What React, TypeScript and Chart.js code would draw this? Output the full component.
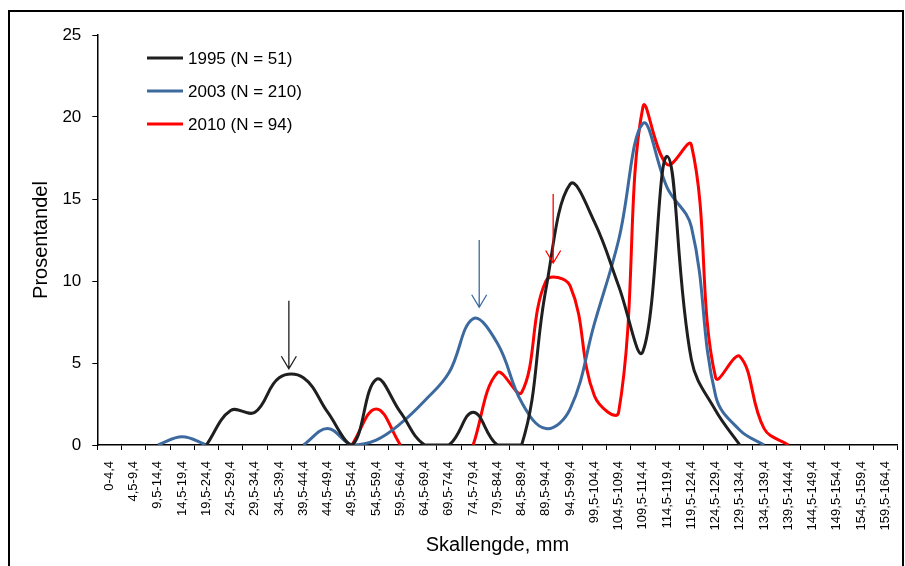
import { useEffect, useRef } from "react"
import { Chart, registerables } from "chart.js"

Chart.register(...registerables)

// Size classes on the x axis
const sizeClasses = [
  "0-4,4", "4,5-9,4", "9,5-14,4", "14,5-19,4", "19,5-24,4", "24,5-29,4", "29,5-34,4",
  "34,5-39,4", "39,5-44,4", "44,5-49,4", "49,5-54,4", "54,5-59,4", "59,5-64,4", "64,5-69,4",
  "69,5-74,4", "74,5-79,4", "79,5-84,4", "84,5-89,4", "89,5-94,4", "94,5-99,4", "99,5-104,4",
  "104,5-109,4", "109,5-114,4", "114,5-119,4", "119,5-124,4", "124,5-129,4", "129,5-134,4",
  "134,5-139,4", "139,5-144,4", "144,5-149,4", "149,5-154,4", "154,5-159,4", "159,5-164,4",
]

// Percent per size class
const pct1995 = [
  null, null, null, null, 0, 2.1, 2.0, 4.1, 4.1, 2.0, 0, 4.0, 2.0, 0, 0, 2.0, 0,
  0, 9.5, 15.9, 13.6, 9.7, 5.7, 17.6, 5.2, 2.1, 0, null, null, null, null, null, null,
]
const pct2003 = [
  null, null, 0, 0.5, 0, null, null, null, 0, 1.0, 0, 0.3, 1.3, 2.7, 4.4, 7.7, 6.2,
  2.6, 1.0, 2.2, 7.4, 12.5, 19.6, 15.7, 13.3, 3.0, 0.9, 0, null, null, null, null, null,
]
const pct2010 = [
  null, null, null, null, null, null, null, null, null, null, 0, 2.2, 0, null, null, 0, 4.4,
  3.2, 10.0, 9.7, 3.0, 2.0, 20.6, 17.1, 18.3, 4.1, 5.4, 1.0, 0, null, null, null, null,
]

const seriesLabels = ["1995 (N = 51)", "2003 (N = 210)", "2010 (N = 94)"]
const seriesColors = ["#1f1f1f", "#3d6a9e", "#ff0000"]

// Arrows marking modes: category position, start value, tip value
const arrowX = [7.4, 15.25, 18.3]
const arrowFrom = [8.8, 12.5, 15.3]
const arrowTo = [4.65, 8.4, 11.1]

const FONT = "'Liberation Sans', Arial, sans-serif"

const extrasPlugin = {
  id: "extras",
  afterDatasetsDraw(chart: any) {
    const { ctx, scales } = chart
    const x = scales.x
    const y = scales.y
    ctx.save()

    // arrows
    arrowX.forEach((ax, i) => {
      const px = x.getPixelForValue(ax)
      const y0 = y.getPixelForValue(arrowFrom[i])
      const y1 = y.getPixelForValue(arrowTo[i])
      ctx.strokeStyle = seriesColors[i]
      ctx.lineWidth = 1.3
      ctx.beginPath()
      ctx.moveTo(px, y0)
      ctx.lineTo(px, y1)
      ctx.moveTo(px - 7.5, y1 - 12.5)
      ctx.lineTo(px, y1)
      ctx.lineTo(px + 7.5, y1 - 12.5)
      ctx.stroke()
    })

    // legend
    seriesLabels.forEach((label, i) => {
      const ly = 58 + i * 33
      ctx.strokeStyle = seriesColors[i]
      ctx.lineWidth = 3
      ctx.beginPath()
      ctx.moveTo(147, ly)
      ctx.lineTo(183, ly)
      ctx.stroke()
      ctx.fillStyle = "#000"
      ctx.font = `17px ${FONT}`
      ctx.textBaseline = "middle"
      ctx.textAlign = "left"
      ctx.fillText(label, 188, ly + 1)
    })

    // outer frame
    ctx.strokeStyle = "#000"
    ctx.lineWidth = 2
    ctx.strokeRect(9, 11, 894, 600)
    ctx.restore()
  },
}

export default function App() {
  const chartRef = useRef<HTMLCanvasElement>(null)
  const chartInstance = useRef<Chart | null>(null)

  useEffect(() => {
    if (!chartRef.current) return
    if (chartInstance.current) chartInstance.current.destroy()
    const ctx = chartRef.current.getContext("2d")
    if (!ctx) return

    const series = [pct1995, pct2003, pct2010]
    chartInstance.current = new Chart(ctx, {
      type: "line",
      data: {
        labels: sizeClasses,
        datasets: series.map((data, i) => ({
          label: seriesLabels[i],
          data,
          borderColor: seriesColors[i],
          backgroundColor: seriesColors[i],
          borderWidth: 3,
          pointRadius: 0,
          tension: 0.4,
          spanGaps: false,
          fill: false,
        })),
      },
      options: {
        animation: false,
        responsive: false,
        maintainAspectRatio: false,
        layout: { padding: { left: 0, right: 7.5, top: 35, bottom: 0 } },
        plugins: {
          legend: { display: false },
          tooltip: { enabled: false },
        },
        scales: {
          x: {
            offset: true,
            grid: {
              offset: true,
              drawOnChartArea: false,
              tickLength: 5,
              color: "#000",
            },
            border: { color: "#000", width: 1.5 },
            ticks: {
              autoSkip: false,
              minRotation: 90,
              maxRotation: 90,
              padding: 11,
              color: "#000",
              font: { family: FONT, size: 13 },
            },
            title: {
              display: true,
              text: "Skallengde, mm",
              color: "#000",
              font: { family: FONT, size: 20 },
              padding: { top: 0, bottom: 9 },
            },
            afterFit: (scale: any) => {
              scale.height = 121
              scale.paddingLeft = 0
              scale.paddingRight = 0
            },
          },
          y: {
            min: 0,
            max: 25,
            ticks: {
              stepSize: 5,
              padding: 11,
              color: "#000",
              font: { family: FONT, size: 17 },
            },
            grid: {
              drawOnChartArea: false,
              tickLength: 5,
              color: "#000",
            },
            border: { color: "#000", width: 1.5 },
            title: {
              display: true,
              text: "Prosentandel",
              color: "#000",
              font: { family: FONT, size: 20 },
              padding: { top: 29, bottom: 0 },
            },
            afterFit: (scale: any) => {
              scale.width = 97.3
            },
          },
        },
      },
      plugins: [extrasPlugin],
    })

    return () => {
      if (chartInstance.current) {
        chartInstance.current.destroy()
        chartInstance.current = null
      }
    }
  }, [])

  return (
    <div style={{ position: "absolute", left: 0, top: 0, width: 905, height: 566, background: "#fff" }}>
      <canvas ref={chartRef} width={905} height={566} style={{ width: 905, height: 566 }} />
    </div>
  )
}
